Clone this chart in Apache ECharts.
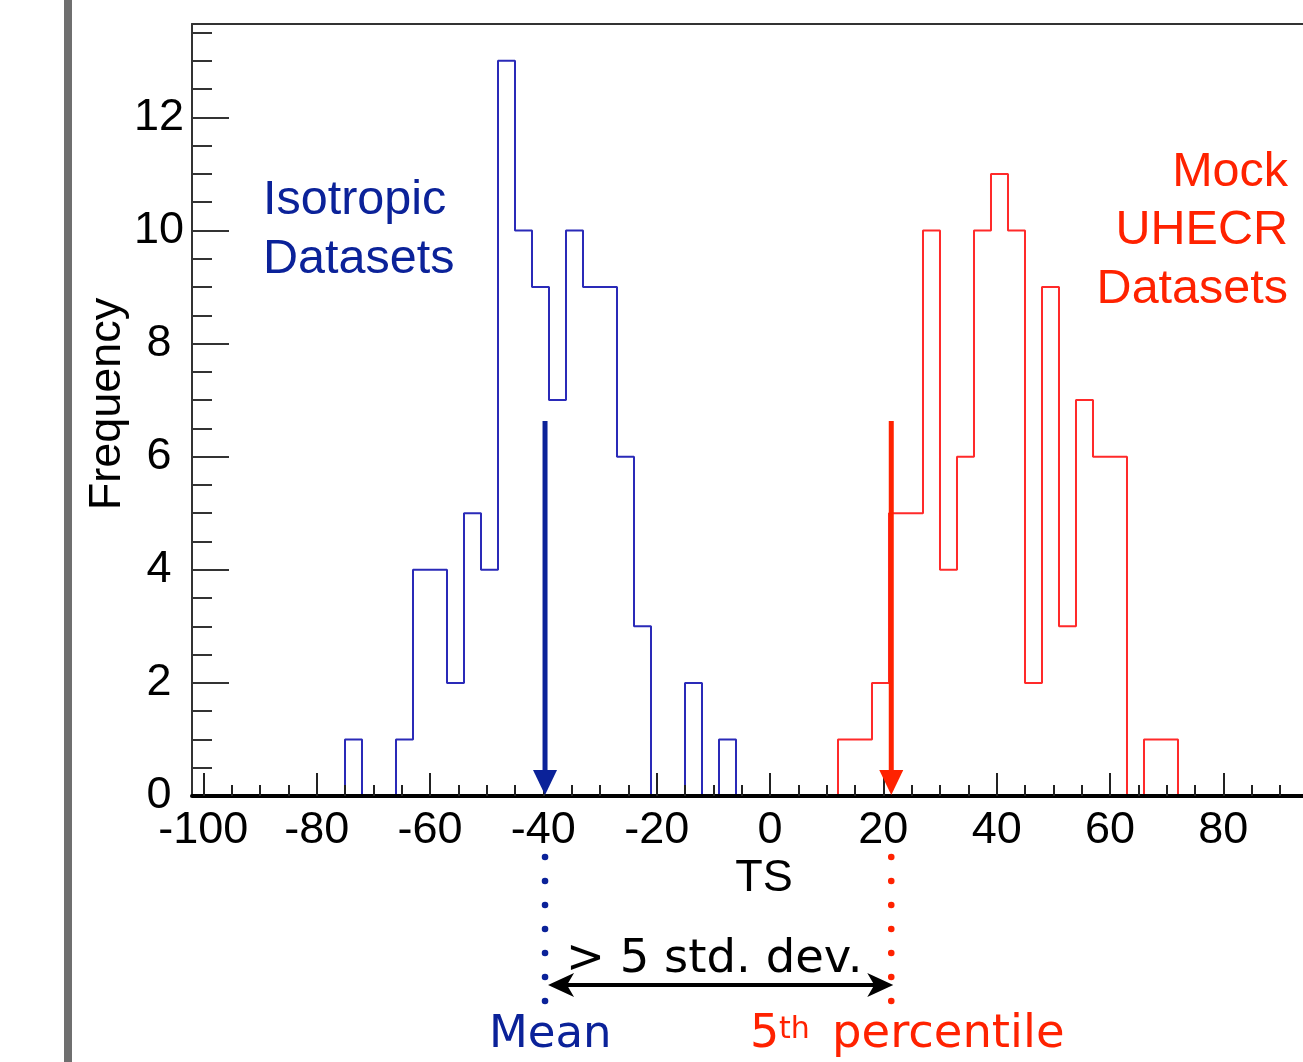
<!DOCTYPE html>
<html>
<head>
<meta charset="utf-8">
<script src="https://cdn.jsdelivr.net/npm/echarts@6/dist/echarts.min.js"></script>
<style>
html,body{margin:0;padding:0;background:#fff;}
#chart{width:1303px;height:1062px;}
</style>
</head>
<body>
<div id="chart"></div>
<script>
// ---- data ----
const binWidth = 3;
const isoBinStart = [-75,-72,-69,-66,-63,-60,-57,-54,-51,-48,-45,-42,-39,-36,-33,-30,-27,-24,-21,-18,-15,-12,-9];
const isoCounts   = [1,0,0,1,4,4,2,5,4,13,10,9,7,10,9,9,6,3,0,0,2,0,1];
const mockBinStart = [12,15,18,21,24,27,30,33,36,39,42,45,48,51,54,57,60,63,66,69];
const mockCounts   = [1,1,2,5,5,10,4,6,10,11,10,2,9,3,7,6,6,0,1,1];
const markerTS  = [-39.7, 21.4];     // isotropic mean, mock 5th percentile
const markerTop = 6.63;              // arrow start height (frequency units)
const xMajorTicks = [-100,-80,-60,-40,-20,0,20,40,60,80];
const xLabels     = [-100,-80,-60,-40,-20,0,20,40,60,80];
const xMinorTicks = [-95,-90,-85,-75,-70,-65,-55,-50,-45,-35,-30,-25,-15,-10,-5,5,10,15,25,30,35,45,50,55,65,70,75,85,90];
const yMajorTicks = [0,2,4,6,8,10,12];
const yMinorTicks = [0.5,1,1.5,2.5,3,3.5,4.5,5,5.5,6.5,7,7.5,8.5,9,9.5,10.5,11,11.5,12.5,13,13.5];
const xRange = [-102, 94.06];        // visible part of the (cropped) frame
const yRange = [0, 13.65];

const BLUE_TXT = '#0b2299';
const RED_TXT = '#ff2200';
const LABEL_FONT = "'Liberation Sans', Arial, sans-serif";
const NOTE_FONT = "'DejaVu Sans', Verdana, sans-serif";

function histPoints(starts, counts, w) {
  const pts = [[starts[0], 0]];
  for (let i = 0; i < starts.length; i++) pts.push([starts[i], counts[i]]);
  const last = starts.length - 1;
  pts.push([starts[last] + w, counts[last]]);
  pts.push([starts[last] + w, 0]);
  return pts;
}

const chart = echarts.init(document.getElementById('chart'), null, {renderer: 'canvas'});

const option = {
  animation: false,
  backgroundColor: '#fff',
  grid: {left: 192, top: 24, right: 0, bottom: 266, show: false},
  xAxis: [
    {
      type: 'value', min: xRange[0], max: xRange[1], position: 'bottom', z: 3,
      axisLine: {show: true, onZero: false, lineStyle: {color: '#000', width: 4}},
      axisTick: {show: true, inside: true, length: 23, customValues: xMajorTicks, lineStyle: {color: '#222', width: 2}},
      axisLabel: {show: true, customValues: xLabels, fontSize: 45, fontFamily: LABEL_FONT, color: '#000', margin: 12},
      splitLine: {show: false}
    },
    {
      type: 'value', min: xRange[0], max: xRange[1], position: 'bottom', z: 3,
      axisLine: {show: false, onZero: false},
      axisTick: {show: true, inside: true, length: 11, customValues: xMinorTicks, lineStyle: {color: '#222', width: 2}},
      axisLabel: {show: false},
      splitLine: {show: false}
    },
    {
      // top frame line
      type: 'value', min: xRange[0], max: xRange[1], position: 'top', z: 3,
      axisLine: {show: true, onZero: false, lineStyle: {color: '#333', width: 2}},
      axisTick: {show: false},
      axisLabel: {show: false},
      splitLine: {show: false}
    }
  ],
  yAxis: [
    {
      type: 'value', min: yRange[0], max: yRange[1], position: 'left',
      axisLine: {show: true, onZero: false, lineStyle: {color: '#333', width: 2}},
      axisTick: {show: true, inside: true, length: 37, customValues: yMajorTicks, lineStyle: {color: '#333', width: 2}},
      axisLabel: {show: true, customValues: yMajorTicks, fontSize: 45, fontFamily: LABEL_FONT, color: '#000', margin: 33, align: 'center'},
      splitLine: {show: false}
    },
    {
      type: 'value', min: yRange[0], max: yRange[1], position: 'left',
      axisLine: {show: false, onZero: false},
      axisTick: {show: true, inside: true, length: 20, customValues: yMinorTicks, lineStyle: {color: '#333', width: 2}},
      axisLabel: {show: false},
      splitLine: {show: false}
    }
  ],
  series: [
    {
      name: 'Isotropic Datasets', type: 'line', step: 'end', showSymbol: false, z: 2,
      data: histPoints(isoBinStart, isoCounts, binWidth),
      lineStyle: {color: '#2a2ab8', width: 2}, itemStyle: {color: '#2a2ab8'}
    },
    {
      name: 'Mock UHECR Datasets', type: 'line', step: 'end', showSymbol: false, z: 2,
      data: histPoints(mockBinStart, mockCounts, binWidth),
      lineStyle: {color: '#ff2a2a', width: 2}, itemStyle: {color: '#ff2a2a'}
    },
    {
      // vertical arrows + dotted guide lines below the axis
      type: 'custom', z: 5, clip: false,
      data: [
        {value: [markerTS[0], markerTop], itemStyle: {color: BLUE_TXT}},
        {value: [markerTS[1], markerTop], itemStyle: {color: RED_TXT}}
      ],
      renderItem: function (params, api) {
        const x = api.value(0), top = api.value(1);
        const p0 = api.coord([x, top]);
        const p1 = api.coord([x, 0]);
        const color = api.visual('color');
        const children = [
          {type: 'line', shape: {x1: p0[0], y1: p0[1], x2: p1[0], y2: p1[1] - 20}, style: {stroke: color, lineWidth: 5}},
          {type: 'polygon', shape: {points: [[p1[0] - 12, p1[1] - 26], [p1[0] + 12, p1[1] - 26], [p1[0], p1[1] - 1]]}, style: {fill: color}}
        ];
        for (let k = 0; k < 7; k++) {
          children.push({type: 'circle', shape: {cx: p1[0], cy: p1[1] + 61 + k * 24, r: 3.3}, style: {fill: color}});
        }
        return {type: 'group', children: children};
      }
    },
    {
      // double-headed arrow between the two markers
      type: 'custom', z: 5, clip: false,
      data: [[markerTS[0], markerTS[1]]],
      renderItem: function (params, api) {
        const a = api.coord([api.value(0), 0]);
        const b = api.coord([api.value(1), 0]);
        const y = a[1] + 189;
        const xl = a[0] + 3, xr = b[0] + 2;
        return {type: 'group', children: [
          {type: 'line', shape: {x1: xl + 10, y1: y, x2: xr - 10, y2: y}, style: {stroke: '#000', lineWidth: 4}},
          {type: 'polygon', shape: {points: [[xl, y], [xl + 26, y - 12], [xl + 19, y], [xl + 26, y + 12]]}, style: {fill: '#000'}},
          {type: 'polygon', shape: {points: [[xr, y], [xr - 26, y - 12], [xr - 19, y], [xr - 26, y + 12]]}, style: {fill: '#000'}}
        ]};
      }
    }
  ],
  graphic: [
    {type: 'rect', left: 64, top: 0, shape: {width: 8, height: 1062}, style: {fill: '#6f6f6f'}, z: 10},
    {type: 'text', x: 108, y: 404, rotation: Math.PI / 2, z: 10,
      style: {text: 'Frequency', fontSize: 45, fontFamily: LABEL_FONT, fill: '#000', align: 'center', verticalAlign: 'middle'}},
    {type: 'text', x: 764, y: 878.5, z: 10,
      style: {text: 'TS', fontSize: 45, fontFamily: LABEL_FONT, fill: '#000', align: 'center', verticalAlign: 'middle'}},
    {type: 'text', x: 263, y: 171, z: 10,
      style: {text: 'Isotropic\nDatasets', fontSize: 48.5, lineHeight: 59, fontFamily: LABEL_FONT, fill: BLUE_TXT, align: 'left', verticalAlign: 'top'}},
    {type: 'text', x: 1288, y: 143, z: 10,
      style: {text: 'Mock\nUHECR\nDatasets', fontSize: 48.5, lineHeight: 58.5, fontFamily: LABEL_FONT, fill: RED_TXT, align: 'right', verticalAlign: 'top'}},
    {type: 'text', x: 566, y: 960, z: 10,
      style: {text: '> 5 std. dev.', fontSize: 46.5, fontFamily: NOTE_FONT, fill: '#000', align: 'left', verticalAlign: 'middle'}},
    {type: 'text', x: 489, y: 1035, z: 10,
      style: {text: 'Mean', fontSize: 45, fontFamily: NOTE_FONT, fill: BLUE_TXT, align: 'left', verticalAlign: 'middle'}},
    {type: 'text', x: 750, y: 1035, z: 10,
      style: {text: '5', fontSize: 46, fontFamily: NOTE_FONT, fill: RED_TXT, align: 'left', verticalAlign: 'middle'}},
    {type: 'text', x: 779, y: 1030, z: 10,
      style: {text: 'th', fontSize: 30, fontFamily: NOTE_FONT, fill: RED_TXT, align: 'left', verticalAlign: 'middle'}},
    {type: 'text', x: 832, y: 1035, z: 10,
      style: {text: 'percentile', fontSize: 46.5, fontFamily: NOTE_FONT, fill: RED_TXT, align: 'left', verticalAlign: 'middle'}}
  ]
};

chart.setOption(option);
</script>
</body>
</html>
